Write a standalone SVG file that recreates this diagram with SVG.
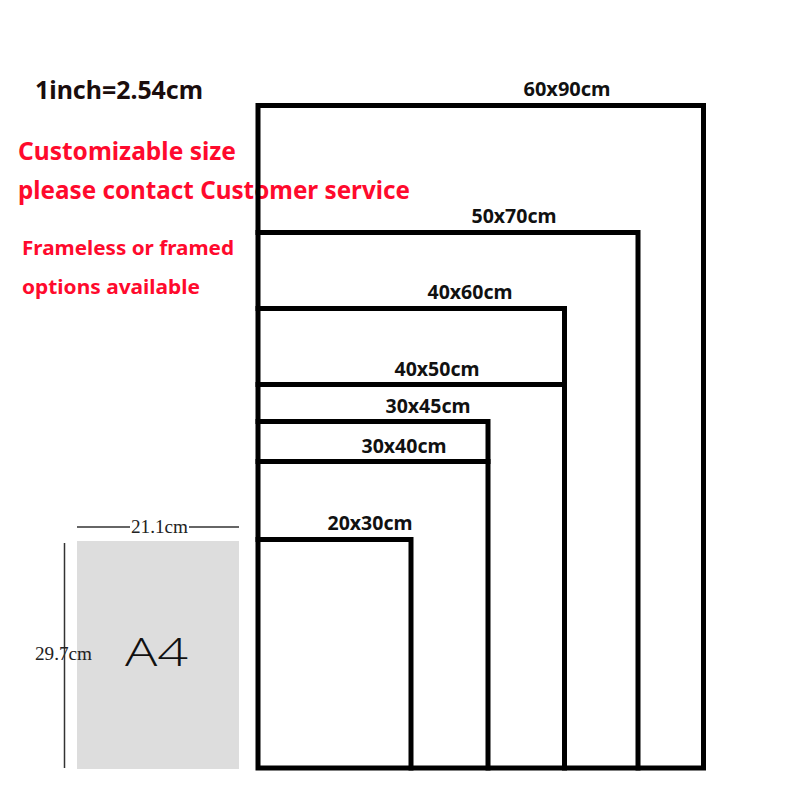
<svg xmlns="http://www.w3.org/2000/svg" width="800" height="800" viewBox="0 0 800 800">
<style>
.frame{fill:none;stroke:#000;stroke-width:5;stroke-linecap:square;stroke-linejoin:miter}
.lbl{font-family:"Noto Sans","Open Sans",sans-serif;font-weight:bold;font-size:19px;fill:#111;text-anchor:middle}
.red{font-family:"Noto Sans","Open Sans",sans-serif;font-weight:bold;fill:#ff0a2d}
.dim{font-family:"Liberation Serif","Times New Roman",serif;font-size:19px;fill:#222}
.dimline{stroke:#333;stroke-width:1.5;fill:none}
</style>
<rect width="800" height="800" fill="#fff"/>
<g id="notes">
<text x="35" y="99" font-family="Noto Sans, Open Sans, sans-serif" font-weight="bold" font-size="25" fill="#1a0d0d" textLength="168" lengthAdjust="spacingAndGlyphs">1inch=2.54cm</text>
<text class="red" x="18" y="160" font-size="25" textLength="218" lengthAdjust="spacingAndGlyphs">Customizable size</text>
<text class="red" x="18" y="199" font-size="25" textLength="392" lengthAdjust="spacingAndGlyphs">please contact Customer service</text>
<text class="red" x="22" y="255" font-size="20" textLength="212" lengthAdjust="spacingAndGlyphs">Frameless or framed</text>
<text class="red" x="22" y="294" font-size="20" textLength="178" lengthAdjust="spacingAndGlyphs">options available</text>
</g>
<g id="connectors">
<path class="frame" d="M258,232.5 H638 V768"/>
<path class="frame" d="M258,308.5 H564.5 V768"/>
<path class="frame" d="M258,384.5 H564.5"/>
<path class="frame" d="M258,421.5 H488 V768"/>
<path class="frame" d="M258,461.5 H488"/>
<path class="frame" d="M258,539.5 H411 V768"/>
</g>
<g id="size-60x90">
<rect class="frame" x="258" y="105.5" width="445.5" height="662.5"/>
<text class="lbl" x="567" y="96" textLength="87" lengthAdjust="spacingAndGlyphs">60x90cm</text>
</g>
<g id="size-50x70"><text class="lbl" x="514" y="223" textLength="85" lengthAdjust="spacingAndGlyphs">50x70cm</text></g>
<g id="size-40x60"><text class="lbl" x="470" y="299" textLength="85" lengthAdjust="spacingAndGlyphs">40x60cm</text></g>
<g id="size-40x50"><text class="lbl" x="437" y="376" textLength="85" lengthAdjust="spacingAndGlyphs">40x50cm</text></g>
<g id="size-30x45"><text class="lbl" x="428" y="413" textLength="85" lengthAdjust="spacingAndGlyphs">30x45cm</text></g>
<g id="size-30x40"><text class="lbl" x="404" y="453" textLength="85" lengthAdjust="spacingAndGlyphs">30x40cm</text></g>
<g id="size-20x30"><text class="lbl" x="370" y="530" textLength="85" lengthAdjust="spacingAndGlyphs">20x30cm</text></g>
<g id="a4">
<rect x="77" y="541" width="162" height="228" fill="#dddddd"/>
<line class="dimline" x1="77" y1="527" x2="130" y2="527"/>
<line class="dimline" x1="189" y1="527" x2="239" y2="527"/>
<text class="dim" x="131" y="533" textLength="57" lengthAdjust="spacingAndGlyphs">21.1cm</text>
<line class="dimline" x1="64.5" y1="543" x2="64.5" y2="768"/>
<text class="dim" x="35" y="660" textLength="57" lengthAdjust="spacingAndGlyphs">29.7cm</text>
<text x="125" y="666" font-family="Open Sans, Lato, sans-serif" font-weight="300" font-size="39" fill="#111" textLength="63" lengthAdjust="spacingAndGlyphs">A4</text>
</g>
</svg>
